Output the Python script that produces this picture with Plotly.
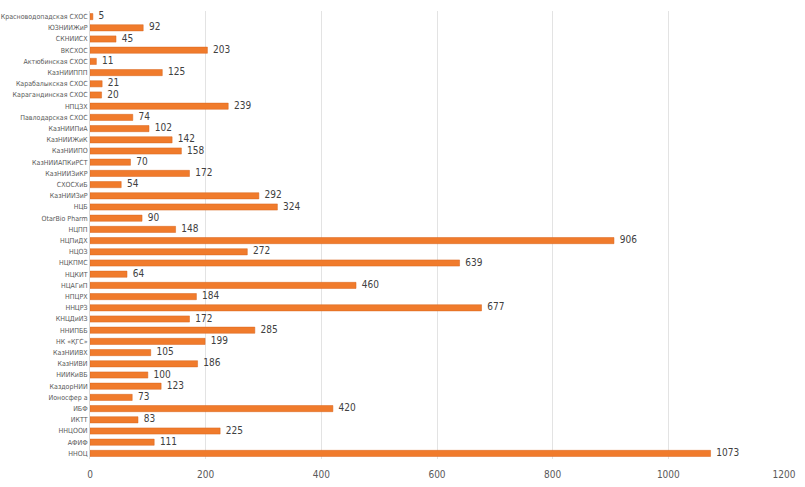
import plotly.graph_objects as go

categories = [
    "Красноводопадская СХОС", "ЮЗНИИЖиР", "СКНИИСХ", "ВКСХОС", "Актюбинская СХОС",
    "КазНИИППП", "Карабалыкская СХОС", "Карагандинская СХОС", "НПЦЗХ", "Павлодарская СХОС",
    "КазНИИПиА", "КазНИИЖиК", "КазНИИПО", "КазНИИАПКиРСТ", "КазНИИЗиКР",
    "СХОСХиБ", "КазНИИЗиР", "НЦБ", "OtarBio Pharm", "НЦПП",
    "НЦПиДХ", "НЦОЗ", "НЦКПМС", "НЦКИТ", "НЦАГиП",
    "НПЦРХ", "ННЦРЗ", "КНЦДиИЗ", "ННИПББ", "НК «ҚГС»",
    "КазНИИВХ", "КазНИВИ", "НИИКиВБ", "КаздорНИИ", "Ионосфер а",
    "ИБФ", "ИКТТ", "ННЦООИ", "АФИФ", "ННОЦ",
]
values = [
    5, 92, 45, 203, 11,
    125, 21, 20, 239, 74,
    102, 142, 158, 70, 172,
    54, 292, 324, 90, 148,
    906, 272, 639, 64, 460,
    184, 677, 172, 285, 199,
    105, 186, 100, 123, 73,
    420, 83, 225, 111, 1073,
]
x_ticks = [0, 200, 400, 600, 800, 1000, 1200]

fig = go.Figure()
fig.add_trace(go.Bar(
    x=values, y=categories, orientation="h",
    marker=dict(color="#F07B2C", line=dict(color="#D9651C", width=0.5)),
    width=0.55,
))
fig.add_trace(go.Scatter(
    x=values, y=categories, mode="text",
    text=["  " + str(v) for v in values], textposition="middle right",
    textfont=dict(size=10, color="#404040", family="DejaVu Sans Condensed, Roboto, sans-serif"),
    cliponaxis=False, hoverinfo="skip",
))
fig.update_layout(
    width=805, height=487,
    margin=dict(l=90, r=21, t=11, b=28),
    plot_bgcolor="white", paper_bgcolor="white",
    showlegend=False,
    xaxis=dict(range=[0, 1200], tickvals=x_ticks, showgrid=True, gridcolor="#E3E3E3",
               zeroline=False, automargin=False,
               ticks="outside", ticklen=6, tickcolor="rgba(0,0,0,0)",
               tickfont=dict(size=10, color="#595959",
                             family="DejaVu Sans Condensed, Roboto, sans-serif")),
    yaxis=dict(range=[len(categories) - 0.5, -0.5], automargin=False,
               tickfont=dict(size=7, color="#595959",
                             family="DejaVu Sans Condensed, Roboto, sans-serif"),
               showline=True, linecolor="#D9D9D9", ticks="", ticklen=0),
)
fig.write_html("out.html")
